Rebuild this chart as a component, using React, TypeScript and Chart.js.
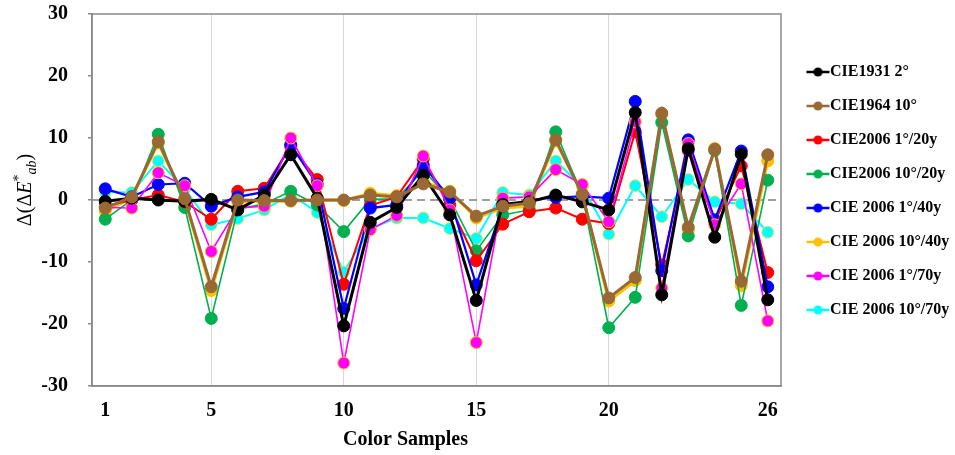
import React, { useEffect, useRef } from 'react';
import { Chart, registerables } from 'chart.js';

Chart.register(...registerables);

const SERIF = '"Liberation Serif", "Times New Roman", serif';

const samples = [1, 2, 3, 4, 5, 6, 7, 8, 9, 10, 11, 12, 13, 14, 15, 16, 17, 18, 19, 20, 21, 22, 23, 24, 25, 26];
const xTickValues = [1, 5, 10, 15, 20, 26];
const xGridValues = [5, 10, 15, 20];
const xTitle = 'Color Samples';

const seriesNames = [
  'CIE1931 2°',
  'CIE1964 10°',
  'CIE2006 1°/20y',
  'CIE2006 10°/20y',
  'CIE 2006 1°/40y',
  'CIE 2006 10°/40y',
  'CIE 2006 1°/70y',
  'CIE 2006 10°/70y',
];

const cie1931_2 = [-0.2, 0.3, 0, -0.2, 0.1, -1.6, 0.8, 7.3, 0.3, -20.3, -3.6, -1.2, 4.0, -2.4, -16.2, -0.7, -0.3, 0.8, -0.3, -1.6, 14.1, -15.3, 8.3, -6.0, 7.4, -16.1];
const cie1964_10 = [-1.3, 0.5, 9.4, 0.2, -14.0, 0, -0.1, -0.1, 0, 0, 0.8, 0.5, 2.6, 1.3, -2.6, -1.0, -0.5, 9.7, 0.9, -15.8, -12.5, 14.0, -4.4, 8.2, -13.1, 7.3];
const cie2006_1_20 = [-1.0, 0, 0.8, -0.3, -3.1, 1.4, 1.9, 8.7, 3.3, -13.6, -0.9, 0.5, 6.6, -0.8, -9.8, -3.9, -1.9, -1.3, -3.1, -3.8, 11.0, -10.5, 8.0, -3.5, 5.5, -11.7];
const cie2006_10_20 = [-3.1, 0, 10.6, -1.2, -19.1, -1.5, -0.6, 1.4, -0.8, -5.1, 0.1, 0.2, 4.8, 0.2, -8.2, -2.4, -1.6, 11.0, 0.8, -20.6, -15.7, 12.5, -5.8, 8.0, -17.0, 3.2];
const cie2006_1_40 = [1.8, 0.5, 2.5, 2.7, -1.0, 0.5, 1.3, 8.9, 2.5, -17.5, -1.3, -0.8, 5.6, 0.3, -13.7, -1.0, 0, 0.4, 0.6, 0.3, 15.9, -11.4, 9.7, -3.2, 7.9, -14.0];
const cie2006_10_40 = [-1.8, 0.3, 9.2, 0, -14.6, -0.3, -0.2, -0.2, 0, -0.1, 1.1, 0.7, 3.0, 1.4, -2.9, -1.3, -1.0, 9.5, 1.0, -16.3, -13.0, 13.8, -4.9, 8.3, -13.8, 6.3];
const cie2006_1_70 = [-1.2, -1.3, 4.4, 2.3, -8.3, -1.3, -1.0, 10.0, 2.3, -26.3, -4.8, -2.5, 7.1, -1.6, -23.0, 0.3, 0.5, 4.9, 2.5, -3.5, 12.6, -14.2, 9.1, -4.0, 2.6, -19.5];
const cie2006_10_70 = [1.3, 1.2, 6.3, 1.8, -4.0, -3.0, -1.6, 0.9, -2.0, -11.6, -4.6, -2.9, -2.9, -4.6, -6.2, 1.2, 0.8, 6.3, 2.1, -5.5, 2.3, -2.7, 3.3, -0.3, -0.6, -5.2];

const seriesValues = [cie1931_2, cie1964_10, cie2006_1_20, cie2006_10_20, cie2006_1_40, cie2006_10_40, cie2006_1_70, cie2006_10_70];
const seriesColors = ['#000000', '#9A6834', '#FF0000', '#00B050', '#0000FF', '#FFC000', '#FF00FF', '#00FFFF'];
const seriesPointBorders = ['#000000', '#9A6834', '#FF0000', '#00B050', '#0000FF', '#FFC000', '#FFC000', '#FFD966'];
const seriesLineWidths = [3, 3, 2, 1.6, 2.2, 3, 1.6, 2];
const seriesOrder = [1, 0, 4, 5, 3, 7, 2, 6];

function makeLegendIcon(color: string) {
  const c = document.createElement('canvas');
  c.width = 40;
  c.height = 12;
  const g = c.getContext('2d')!;
  g.strokeStyle = color;
  g.lineWidth = 2.5;
  g.beginPath();
  g.moveTo(16, 6);
  g.lineTo(39, 6);
  g.stroke();
  g.fillStyle = color;
  g.beginPath();
  g.arc(27.5, 6, 4.6, 0, Math.PI * 2);
  g.fill();
  return c;
}

const legendPlacePlugin = {
  id: 'legendPlace',
  afterLayout(chart: any) {
    const lg = chart.legend;
    if (lg) {
      lg.top = 46;
    }
  },
};

const framePlugin = {
  id: 'frameAndZero',
  beforeDatasetsDraw(chart: any) {
    const { ctx, chartArea, scales } = chart;
    const y0 = scales.y.getPixelForValue(0);
    ctx.save();
    ctx.strokeStyle = '#808080';
    ctx.lineWidth = 1.5;
    ctx.setLineDash([8, 5]);
    ctx.beginPath();
    ctx.moveTo(chartArea.left, y0);
    ctx.lineTo(chartArea.right, y0);
    ctx.stroke();
    ctx.setLineDash([]);
    ctx.strokeStyle = '#898989';
    ctx.lineWidth = 1.5;
    ctx.strokeRect(chartArea.left, chartArea.top, chartArea.right - chartArea.left, chartArea.bottom - chartArea.top);
    ctx.restore();
  },
};

const titlesPlugin = {
  id: 'axisTitles',
  afterDraw(chart: any) {
    const { ctx, chartArea } = chart;
    ctx.save();
    ctx.fillStyle = '#000';
    ctx.font = `bold 20px ${SERIF}`;
    ctx.textAlign = 'center';
    ctx.textBaseline = 'middle';
    ctx.fillText(xTitle, (chartArea.left + chartArea.right) / 2 - 31, 440);

    const segs = [
      { t: 'Δ(Δ', f: `20px ${SERIF}`, dy: 0 },
      { t: 'E', f: `italic 20px ${SERIF}`, dy: 0 },
      { t: '*', f: `14px ${SERIF}`, dy: -8 },
      { t: 'ab', f: `italic 14px ${SERIF}`, dy: 5 },
      { t: ')', f: `20px ${SERIF}`, dy: 0 },
    ];
    let total = 0;
    const widths = segs.map((s) => {
      ctx.font = s.f;
      const w = ctx.measureText(s.t).width;
      total += w;
      return w;
    });
    ctx.translate(31, (chartArea.top + chartArea.bottom) / 2 - 10);
    ctx.rotate(-Math.PI / 2);
    ctx.textAlign = 'left';
    ctx.textBaseline = 'alphabetic';
    let x = -total / 2;
    segs.forEach((s, i) => {
      ctx.font = s.f;
      ctx.fillText(s.t, x, s.dy);
      x += widths[i];
    });
    ctx.restore();
  },
};

export default function App() {
  const ref = useRef<HTMLCanvasElement | null>(null);

  useEffect(() => {
    document.body.style.margin = '0';
    const canvas = ref.current!;
    const tickFont = { family: SERIF, size: 20, weight: 'bold' as const };
    const chart = new Chart(canvas, {
      type: 'line',
      data: {
        datasets: seriesNames.map((name, si) => ({
          label: name,
          data: seriesValues[si].map((v, i) => ({ x: samples[i], y: v })),
          borderColor: seriesColors[si],
          backgroundColor: seriesColors[si],
          pointBackgroundColor: seriesColors[si],
          pointBorderColor: seriesPointBorders[si],
          pointBorderWidth: 1,
          pointRadius: 6,
          borderWidth: seriesLineWidths[si],
          tension: 0,
          fill: false,
          order: seriesOrder[si],
        })),
      },
      options: {
        animation: false,
        responsive: false,
        layout: { padding: 0 },
        scales: {
          x: {
            type: 'linear',
            min: 0.5,
            max: 26.5,
            afterBuildTicks: (scale: any) => {
              scale.ticks = xTickValues.map((v) => ({ value: v }));
            },
            afterFit: (scale: any) => {
              scale.height = 69;
            },
            grid: {
              color: (c: any) => (c.tick && xGridValues.includes(c.tick.value) ? '#d9d9d9' : 'rgba(0,0,0,0)'),
              lineWidth: 1,
              drawTicks: false,
            },
            border: { color: '#898989', width: 1.5 },
            ticks: { font: tickFont, color: '#000', padding: 13, autoSkip: false, maxRotation: 0 },
          },
          y: {
            min: -30,
            max: 30,
            afterFit: (scale: any) => {
              scale.width = 92;
              scale.paddingTop = 14;
            },
            grid: { drawOnChartArea: false, drawTicks: true, tickLength: 4, color: '#898989', lineWidth: 1.5 },
            border: { color: '#898989', width: 1.5 },
            ticks: { stepSize: 10, font: tickFont, color: '#000', padding: 20 },
          },
        },
        plugins: {
          tooltip: { enabled: false },
          legend: {
            position: 'right',
            align: 'start',
            maxWidth: 174,
            labels: {
              usePointStyle: true,
              pointStyleWidth: 23,
              padding: 18,
              color: '#000',
              font: { family: SERIF, size: 16, weight: 'bold' },
              generateLabels: (ch: any) =>
                ch.data.datasets.map((ds: any, i: number) => ({
                  text: ds.label,
                  datasetIndex: i,
                  fillStyle: seriesColors[i],
                  strokeStyle: seriesColors[i],
                  fontColor: '#000',
                  lineWidth: 0,
                  hidden: false,
                  pointStyle: makeLegendIcon(seriesColors[i]),
                })),
            },
          },
        },
      },
      plugins: [legendPlacePlugin, framePlugin, titlesPlugin],
    } as any);
    return () => chart.destroy();
  }, []);

  return <canvas ref={ref} width={955} height={455} style={{ display: 'block', width: 955, height: 455 }} />;
}
